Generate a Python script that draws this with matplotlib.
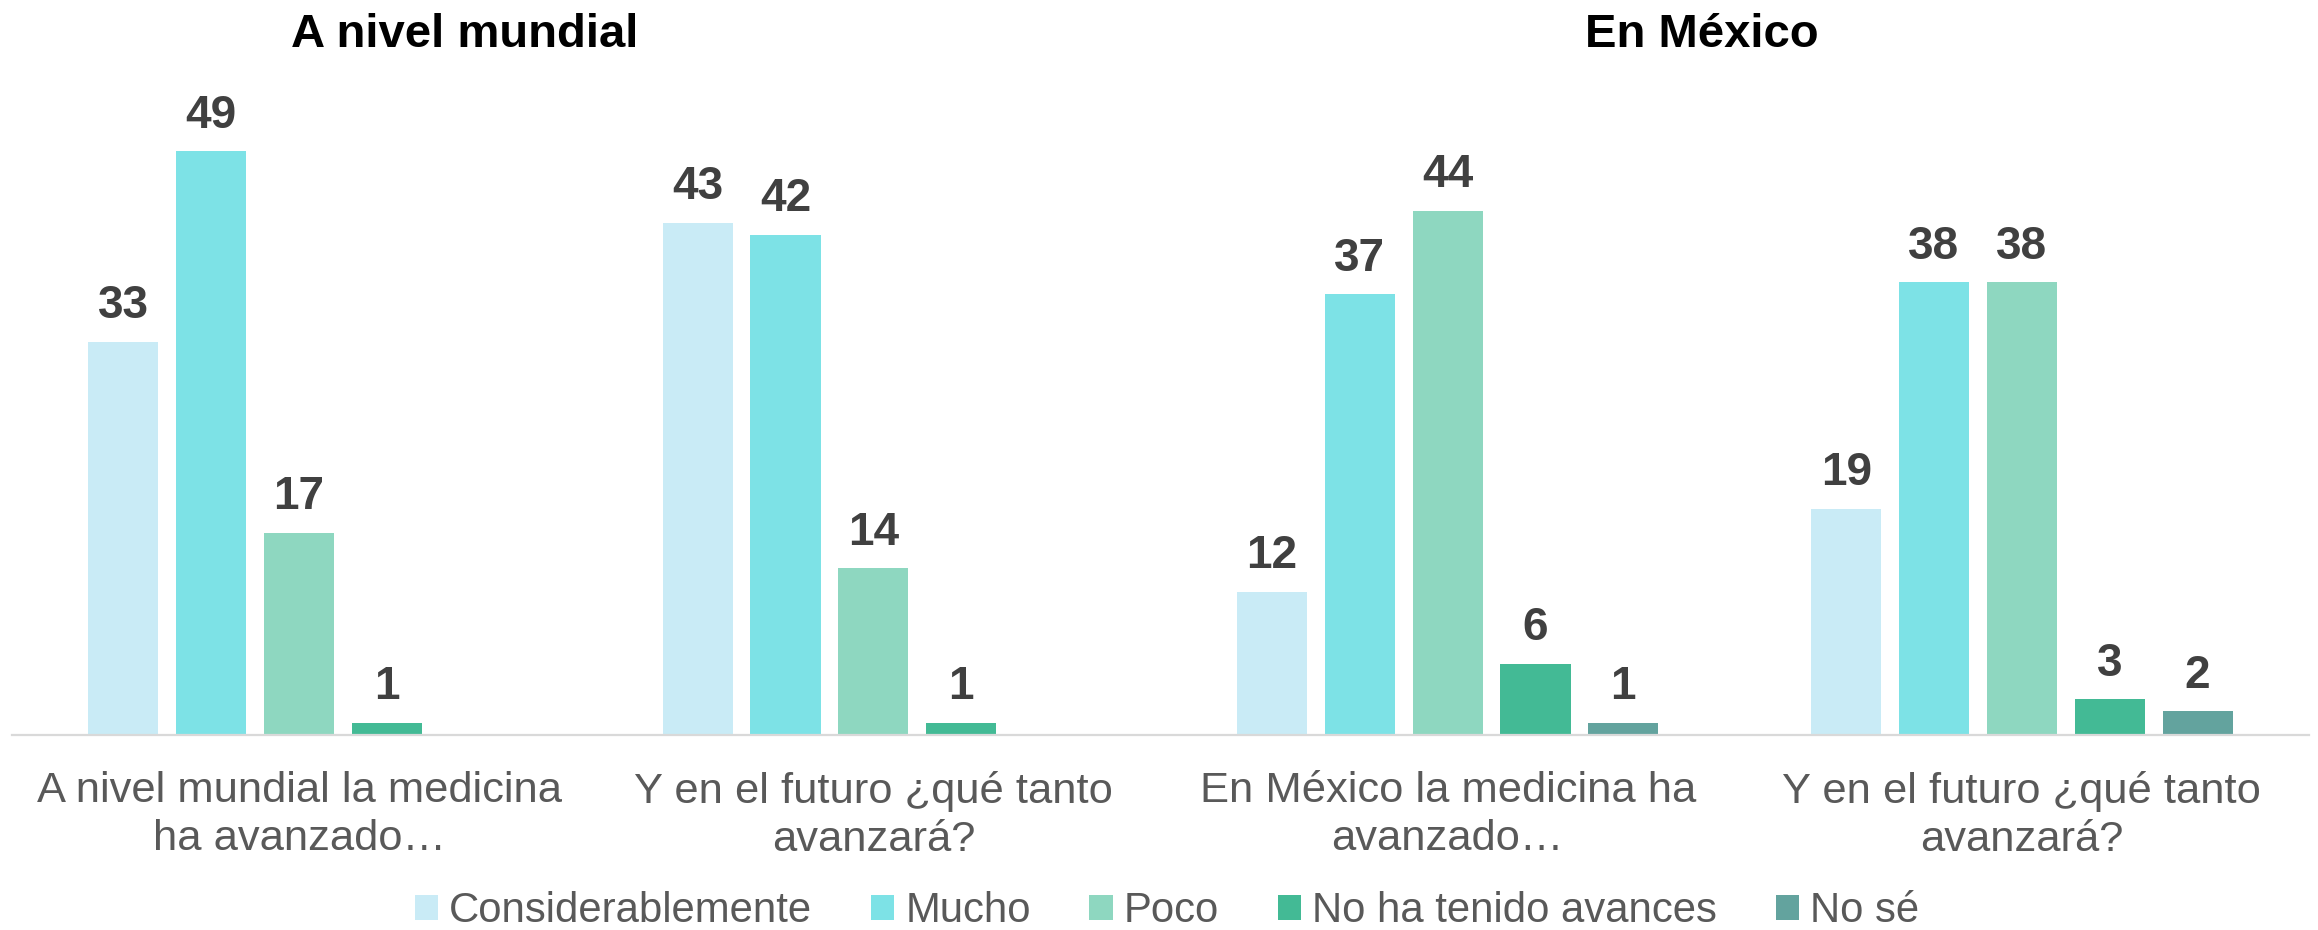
import matplotlib
matplotlib.use('Agg')
import matplotlib.pyplot as plt
import numpy as np

plt.rcParams['font.family'] = ['Liberation Sans', 'DejaVu Sans']

# categories (questions), two panels side by side on one axis
categories = [
    "A nivel mundial la medicina\nha avanzado…",
    "Y en el futuro ¿qué tanto\navanzará?",
    "En México la medicina ha\navanzado…",
    "Y en el futuro ¿qué tanto\navanzará?",
]
series_names = ["Considerablemente", "Mucho", "Poco", "No ha tenido avances", "No sé"]
considerablemente = [33, 43, 12, 19]
mucho = [49, 42, 37, 38]
poco = [17, 14, 44, 38]
sin_avances = [1, 1, 6, 3]
no_se = [np.nan, np.nan, 1, 2]
panel_titles = ["A nivel mundial", "En México"]

colors = ["#C9EBF6", "#7DE2E6", "#8ED7C0", "#43BA95", "#63A39E"]
series = [considerablemente, mucho, poco, sin_avances, no_se]

fig = plt.figure(figsize=(23.18, 9.30), dpi=100)
ax = fig.add_axes([12 / 2318, 1 - 735 / 930, 2297 / 2318, 655 / 930])

x = np.arange(len(categories))
step = 0.153
width = 0.122
for i, (name, vals, col) in enumerate(zip(series_names, series, colors)):
    pos = x + (i - 2) * step
    ax.bar(pos, vals, width, color=col, label=name)
    for px, v in zip(pos, vals):
        if np.isnan(v):
            continue
        ax.annotate(f"{v:g}", (px, v), xytext=(0, 17), textcoords='offset points',
                    ha='center', va='baseline', fontsize=33, fontweight='bold',
                    color='#404040')

ax.set_xlim(-0.5, 3.5)
ax.set_ylim(0, 55)
ax.set_yticks([])
ax.set_xticks(x)
ax.set_xticklabels(categories, fontsize=31.3, color='#595959', linespacing=1.27)
ax.tick_params(axis='x', length=0, pad=26)
for s in ['top', 'right', 'left']:
    ax.spines[s].set_visible(False)
ax.spines['bottom'].set_color('#D9D9D9')
ax.spines['bottom'].set_linewidth(1.6)

# panel titles
fig.text(465 / 2318, 1 - 47 / 930, panel_titles[0], ha='center', va='baseline',
         fontsize=34, fontweight='bold', color='black')
fig.text(1702 / 2318, 1 - 47 / 930, panel_titles[1], ha='center', va='baseline',
         fontsize=34, fontweight='bold', color='black')

fig.legend(loc='center', bbox_to_anchor=(1167 / 2318, 1 - 911 / 930), ncol=5,
           frameon=False, fontsize=30.2, labelcolor='#595959',
           handlelength=0.55, handleheight=0.55, handletextpad=0.27,
           columnspacing=1.4, borderpad=0, borderaxespad=0)

plt.savefig('out.png', dpi=100)
